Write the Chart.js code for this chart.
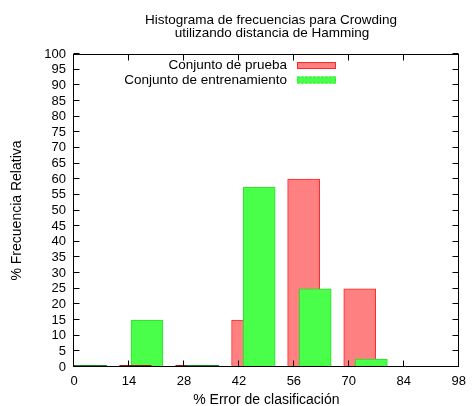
<!DOCTYPE html>
<html>
<head>
<meta charset="utf-8">
<script src="https://cdn.jsdelivr.net/npm/chart.js@4/dist/chart.umd.min.js"></script>
<style>
	html, body { margin: 0; padding: 0; background: #fff; }
	canvas { display: block; }
</style>
</head>
<body>
<canvas id="histograma" width="473" height="406"></canvas>
<script>
const titleLines = ["Histograma de frecuencias para Crowding", "utilizando distancia de Hamming"];
const seriesNames = ["Conjunto de prueba", "Conjunto de entrenamiento"];
const xTitle = "% Error de clasificación";
const yTitle = "% Frecuencia Relativa";

// inicio de cada clase del histograma (en % de error)
const binStarts = [0, 14.29, 28.57, 42.86, 57.14, 71.43];
const prueba = [0, 0, 0, 15, 60, 25];
const entrenamiento = [0, 15, 0, 57.5, 25, 2.5];

const xTicks = [0, 14, 28, 42, 56, 70, 84, 98];
const yTicks = [0, 5, 10, 15, 20, 25, 30, 35, 40, 45, 50, 55, 60, 65, 70, 75, 80, 85, 90, 95, 100];

const FONT = "'Liberation Sans', Arial, Helvetica, sans-serif";
const redOffset = 1.35;
const greenOffset = 4.3;
const colors = {
	redFill: "#ff8080",
	redLine: "#ff2626",
	redZero: "#9a1515",
	greenFill: "#4aff4a",
	greenLine: "#2bdc2b",
	greenZero: "#128812",
};

const toPoints = (values, offset) => values.map((v, i) => ({ x: binStarts[i] + offset, y: v }));

// barras de altura cero: gnuplot deja una raya oscura sobre el eje
const zeroBars = {
	id: "zeroBars",
	afterDatasetsDraw(chart) {
		const { ctx, chartArea: a } = chart;
		ctx.save();
		ctx.beginPath();
		ctx.rect(a.left, a.top, a.right - a.left, a.bottom - a.top + 2);
		ctx.clip();
		chart._getSortedDatasetMetas().slice().reverse().forEach((meta) => {
			const ds = chart.data.datasets[meta.index];
			meta.data.forEach((el, i) => {
				if (ds.data[i].y !== 0) return;
				ctx.fillStyle = ds.zeroColor;
				ctx.fillRect(el.x - el.width / 2, Math.round(el.y) - 2, el.width, 2);
			});
		});
		ctx.restore();
	},
};

const frame = {
	id: "frame",
	afterDraw(chart) {
		const { ctx, chartArea: a, scales } = chart;
		const left = Math.round(a.left) - 0.5;
		const right = Math.round(a.right) - 0.5;
		const top = Math.round(a.top) + 0.5;
		const bottom = Math.round(a.bottom) - 0.5;
		const tick = 6;
		ctx.save();
		ctx.strokeStyle = "#000";
		ctx.lineWidth = 1;
		ctx.strokeRect(left, top, right - left, bottom - top);
		ctx.beginPath();
		xTicks.forEach((v) => {
			const px = Math.round(scales.x.getPixelForValue(v)) - 0.5;
			ctx.moveTo(px, bottom);
			ctx.lineTo(px, bottom - tick);
			ctx.moveTo(px, top);
			ctx.lineTo(px, top + tick);
		});
		yTicks.forEach((v) => {
			const py = Math.round(scales.y.getPixelForValue(v)) - 0.5;
			ctx.moveTo(left, py);
			ctx.lineTo(left + tick, py);
			ctx.moveTo(right, py);
			ctx.lineTo(right - tick, py);
		});
		ctx.stroke();

		// titulo
		ctx.fillStyle = "#000";
		ctx.font = "13.5px " + FONT;
		ctx.textAlign = "center";
		ctx.textBaseline = "middle";
		ctx.fillText(titleLines[0], 271, 20);
		ctx.fillText(titleLines[1], 272, 33);

		// leyenda
		const rows = [
			{ label: seriesNames[0], fill: colors.redFill, line: colors.redLine, dash: [] },
			{ label: seriesNames[1], fill: colors.greenFill, line: colors.greenLine, dash: [2, 2] },
		];
		ctx.textAlign = "right";
		rows.forEach((r, i) => {
			const cy = 65.5 + i * 14.5;
			ctx.fillStyle = "#000";
			ctx.fillText(r.label, 287, cy);
			ctx.fillStyle = r.fill;
			ctx.fillRect(297, cy - 3.5, 39, 7);
			ctx.strokeStyle = r.line;
			ctx.setLineDash(r.dash);
			ctx.strokeRect(297.5, cy - 3, 38, 6);
		});
		ctx.restore();
	},
};

new Chart(document.getElementById("histograma"), {
	type: "bar",
	data: {
		datasets: [
			{
				label: seriesNames[0],
				data: toPoints(prueba, redOffset),
				backgroundColor: colors.redFill,
				borderColor: colors.redLine,
				zeroColor: colors.redZero,
				order: 1,
			},
			{
				label: seriesNames[1],
				data: toPoints(entrenamiento, greenOffset),
				backgroundColor: colors.greenFill,
				borderColor: colors.greenLine,
				zeroColor: colors.greenZero,
				order: 0,
			},
		],
	},
	options: {
		responsive: false,
		animation: false,
		layout: { padding: { top: 54, right: 10, left: 0, bottom: 0 } },
		datasets: {
			bar: {
				grouped: false,
				barThickness: 32,
				borderWidth: 1,
				borderSkipped: false,
			},
		},
		plugins: {
			legend: { display: false },
			tooltip: { enabled: false },
		},
		scales: {
			x: {
				type: "linear",
				min: 0,
				max: 98,
				offset: false,
				afterBuildTicks: (s) => { s.ticks = xTicks.map((v) => ({ value: v })); },
				afterFit: (s) => { s.height = 39; },
				grid: { display: false, drawTicks: false },
				border: { display: false },
				ticks: { color: "#000", padding: 7, maxRotation: 0, autoSkip: false, font: { family: FONT, size: 13 } },
				title: {
					display: true,
					text: xTitle,
					color: "#000",
					font: { family: FONT, size: 14 },
					padding: { top: 0, bottom: -3 },
				},
			},
			y: {
				min: 0,
				max: 100,
				afterBuildTicks: (s) => { s.ticks = yTicks.map((v) => ({ value: v })); },
				afterFit: (s) => { s.width = 74; },
				grid: { display: false, drawTicks: false },
				border: { display: false },
				ticks: { color: "#000", padding: 8, autoSkip: false, font: { family: FONT, size: 13 } },
				title: {
					display: true,
					text: yTitle,
					color: "#000",
					font: { family: FONT, size: 14 },
					padding: { top: 9, bottom: 0 },
				},
			},
		},
	},
	plugins: [zeroBars, frame],
});
</script>
</body>
</html>
